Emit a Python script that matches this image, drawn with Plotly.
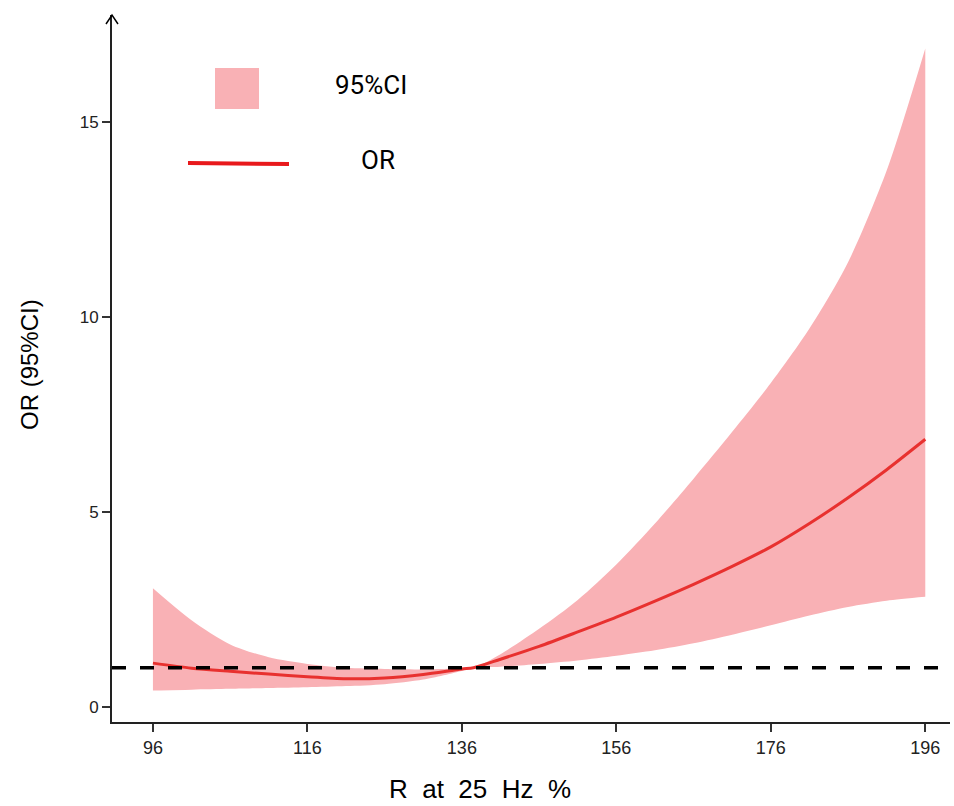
import plotly.graph_objects as go

# Data
x_vals = [96, 101, 106, 111, 116, 121, 126, 131, 136, 137.5, 141, 146, 151, 156,
          161, 166, 171, 176, 181, 186, 191, 196]
or_vals = [1.12, 0.99, 0.91, 0.84, 0.77, 0.72, 0.74, 0.83, 0.97, 1.00, 1.22, 1.55,
           1.92, 2.30, 2.71, 3.14, 3.60, 4.10, 4.70, 5.36, 6.08, 6.86]
upper_vals = [3.04, 2.22, 1.60, 1.27, 1.10, 1.00, 0.97, 0.96, 0.99, 1.00, 1.35, 2.00,
              2.74, 3.65, 4.70, 5.85, 7.05, 8.30, 9.70, 11.40, 13.75, 16.88]
lower_vals = [0.42, 0.44, 0.46, 0.48, 0.50, 0.53, 0.58, 0.70, 0.92, 1.00, 1.03, 1.10,
              1.19, 1.31, 1.45, 1.63, 1.85, 2.09, 2.34, 2.56, 2.72, 2.82]
ref_value = 1
x_ticks = [96, 116, 136, 156, 176, 196]
y_ticks = [0, 5, 10, 15]

band_color = "#F9B1B5"
line_color = "#E8312F"

fig = go.Figure()
fig.add_trace(go.Scatter(x=x_vals, y=upper_vals, mode="lines", line=dict(width=0, shape="spline", smoothing=0.8),
                         hoverinfo="skip", showlegend=False))
fig.add_trace(go.Scatter(x=x_vals, y=lower_vals, mode="lines", line=dict(width=0, shape="spline", smoothing=0.8),
                         fill="tonexty", fillcolor=band_color, showlegend=False))
fig.add_shape(type="line", xref="paper", yref="y", x0=0, x1=1, y0=ref_value, y1=ref_value,
              line=dict(color="black", width=3.5, dash="14px,14px"))
fig.add_trace(go.Scatter(x=x_vals, y=or_vals, mode="lines",
                         line=dict(color=line_color, width=3, shape="spline", smoothing=0.8),
                         showlegend=False))

W, H = 954, 806
ml, mr, mt, mb = 112, 4, 15, 84
pw, ph = W - ml - mr, H - mt - mb

def px(xp):
    return (xp - ml) / pw

def py(yp):
    return (H - mb - yp) / ph

# arrow head on y-axis
fig.add_shape(type="path", xref="paper", yref="paper",
              path=f"M {px(106)} {py(24)} L {px(112)} {py(15)} L {px(118)} {py(24)}",
              line=dict(color="black", width=1.5))

# custom legend
fig.add_shape(type="rect", xref="paper", yref="paper", x0=px(215), x1=px(259), y0=py(109), y1=py(68),
              fillcolor=band_color, line=dict(width=0))
fig.add_shape(type="line", xref="paper", yref="paper", x0=px(188), x1=px(289), y0=py(163), y1=py(164),
              line=dict(color="#E8191C", width=4))
fig.add_annotation(text="95%CI", xref="paper", yref="paper", x=px(333), y=py(85), xanchor="left",
                   yanchor="middle", showarrow=False, font=dict(family="Roboto", size=26, color="black"))
fig.add_annotation(text="OR", xref="paper", yref="paper", x=px(359), y=py(160), xanchor="left",
                   yanchor="middle", showarrow=False, font=dict(family="Roboto", size=26, color="black"))

# axis titles
fig.add_annotation(text="R  at  25  Hz  %", xref="paper", yref="paper", x=px(480), y=py(789),
                   xanchor="center", yanchor="middle", showarrow=False,
                   font=dict(family="Liberation Sans", size=26, color="black"))
fig.add_annotation(text="OR (95%CI)", xref="paper", yref="paper", x=px(29), y=py(365),
                   xanchor="center", yanchor="middle", textangle=-90, showarrow=False,
                   font=dict(family="Liberation Sans, Arial", size=24, color="black"))

fig.update_layout(
    width=W, height=H,
    margin=dict(l=ml, r=mr, t=mt, b=mb),
    plot_bgcolor="white", paper_bgcolor="white",
    showlegend=False,
)
fig.update_xaxes(range=[90.7, 199.2], tickvals=x_ticks, ticks="outside", ticklen=8, tickwidth=1.5,
                 tickcolor="#333", showline=True, linecolor="#222", linewidth=2, showgrid=False,
                 zeroline=False,
                 tickfont=dict(family="Liberation Sans", size=18, color="#222"))
fig.update_yaxes(range=[-0.39, 17.74], tickvals=y_ticks, ticks="outside", ticklen=8, tickwidth=1.5,
                 tickcolor="#333", showline=True, linecolor="#222", linewidth=2, showgrid=False,
                 zeroline=False, tickfont=dict(family="Liberation Sans, Arial", size=17, color="#222"))

fig.write_html("out.html", config={"displayModeBar": False},
               post_script="document.body.style.margin='0px';document.body.style.overflow='hidden';")
